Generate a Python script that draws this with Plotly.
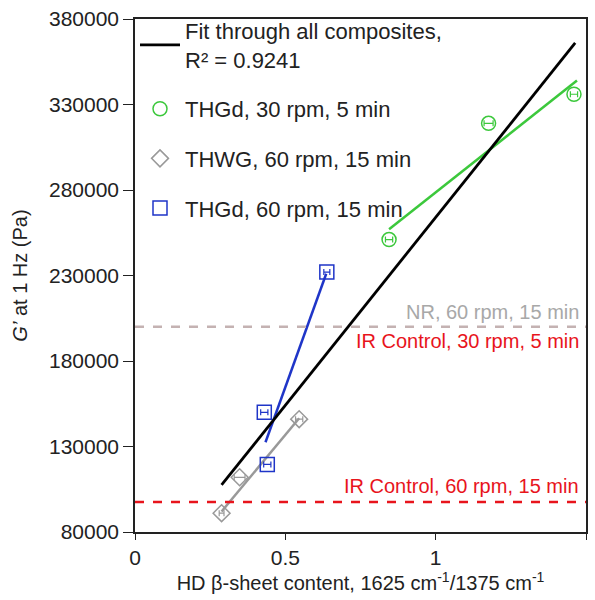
import plotly.graph_objects as go

# Data
thgd30_x = [0.845, 1.176, 1.46]
thgd30_y = [251000, 319000, 336000]
thgd30_err = [0.012, 0.015, 0.012]
thgd30_fit_x = [0.845, 1.47]
thgd30_fit_y = [257000, 344000]

thwg_x = [0.288, 0.348, 0.546]
thwg_y = [91000, 112000, 146000]
thwg_err = [0.008, 0.018, 0.012]
thwg_fit_x = [0.288, 0.546]
thwg_fit_y = [92000, 146500]

thgd60_x = [0.43, 0.44, 0.638]
thgd60_y = [150000, 119500, 232000]
thgd60_err = [0.012, 0.012, 0.01]
thgd60_fit_x = [0.434, 0.636]
thgd60_fit_y = [132500, 231000]

allfit_x = [0.288, 1.464]
allfit_y = [107500, 366000]

nr_level = 200000
ir60_level = 97500

x_ticks = [0, 0.5, 1, 1.5]
x_ticklabels = ["0", "0.5", "1", "1.5"]
y_ticks = [80000, 130000, 180000, 230000, 280000, 330000, 380000]

GREEN = "#3cc83c"
GREY = "#999999"
BLUE = "#1f35c8"
RED = "#e8141c"
ROSY = "#c4b2b2"
FONT = "Liberation Sans, Arial, sans-serif"

fig = go.Figure()

# fit lines (not in legend)
fig.add_trace(go.Scatter(x=thgd30_fit_x, y=thgd30_fit_y, mode="lines",
                         line=dict(color=GREEN, width=2.5), showlegend=False))
fig.add_trace(go.Scatter(x=thwg_fit_x, y=thwg_fit_y, mode="lines",
                         line=dict(color=GREY, width=2.5), showlegend=False))
fig.add_trace(go.Scatter(x=thgd60_fit_x, y=thgd60_fit_y, mode="lines",
                         line=dict(color=BLUE, width=2.5), showlegend=False))

fig.add_trace(go.Scatter(x=allfit_x, y=allfit_y, mode="lines",
                         line=dict(color="black", width=2.8),
                         name="Fit through all composites,<br>R² = 0.9241",
                         legendgroup="a"))

fig.add_trace(go.Scatter(x=thgd30_x, y=thgd30_y, mode="markers",
                         marker=dict(symbol="circle-open", size=14, color=GREEN,
                                     line=dict(width=1.5)),
                         error_x=dict(type="data", array=thgd30_err, color=GREEN,
                                      thickness=1.2, width=3),
                         name="THGd, 30 rpm, 5 min", legendgroup="b"))
fig.add_trace(go.Scatter(x=thwg_x, y=thwg_y, mode="markers",
                         marker=dict(symbol="diamond-open", size=13, color=GREY,
                                     line=dict(width=1.5)),
                         error_x=dict(type="data", array=thwg_err, color=GREY,
                                      thickness=1.2, width=3),
                         name="THWG, 60 rpm, 15 min", legendgroup="c"))
fig.add_trace(go.Scatter(x=thgd60_x, y=thgd60_y, mode="markers",
                         marker=dict(symbol="square-open", size=14, color=BLUE,
                                     line=dict(width=1.5)),
                         error_x=dict(type="data", array=thgd60_err, color=BLUE,
                                      thickness=1.2, width=3),
                         name="THGd, 60 rpm, 15 min", legendgroup="d"))

# horizontal reference lines
fig.add_hline(y=nr_level, line=dict(color=ROSY, width=2.5, dash="dash"))
fig.add_hline(y=ir60_level, line=dict(color=RED, width=2.5, dash="dash"))

fig.add_annotation(x=0.99, xref="paper", y=nr_level, yref="y", text="NR, 60 rpm, 15 min",
                   showarrow=False, xanchor="right", yanchor="bottom", yshift=2,
                   font=dict(color="#a8a8a8", size=20, family=FONT))
fig.add_annotation(x=0.99, xref="paper", y=nr_level, yref="y", text="IR Control, 30 rpm, 5 min",
                   showarrow=False, xanchor="right", yanchor="top", yshift=-1,
                   font=dict(color=RED, size=20, family=FONT))
fig.add_annotation(x=0.99, xref="paper", y=ir60_level, yref="y", text="IR Control, 60 rpm, 15 min",
                   showarrow=False, xanchor="right", yanchor="bottom", yshift=3,
                   font=dict(color=RED, size=20, family=FONT))

fig.update_layout(
    width=595, height=600,
    margin=dict(l=135, r=7, t=14, b=68),
    paper_bgcolor="white", plot_bgcolor="white",
    font=dict(family=FONT, size=21, color="#222222"),
    legend=dict(x=0.0, y=1.018, xanchor="left", yanchor="top",
                bgcolor="rgba(0,0,0,0)", font=dict(size=22),
                tracegroupgap=18, traceorder="grouped", itemwidth=40),
    xaxis=dict(range=[0, 1.5], tickvals=x_ticks, ticktext=x_ticklabels,
               showgrid=False, zeroline=False, showline=True, linecolor="#222222",
               linewidth=1.5, mirror=True, ticks="outside", ticklen=6, tickcolor="#222222",
               title=dict(text="HD β-sheet content, 1625 cm<sup>-1</sup>/1375 cm<sup>-1</sup>",
                          standoff=4, font=dict(size=20))),
    yaxis=dict(range=[80000, 380000], tickvals=y_ticks,
               showgrid=False, zeroline=False, showline=True, linecolor="#222222",
               linewidth=1.5, mirror=True, ticks="outside", ticklen=10, tickcolor="#222222",
               tickformat="d",
               title=dict(text="<i>G’</i> at 1 Hz (Pa)", standoff=16, font=dict(size=20))),
)

fig.write_html("out.html")
